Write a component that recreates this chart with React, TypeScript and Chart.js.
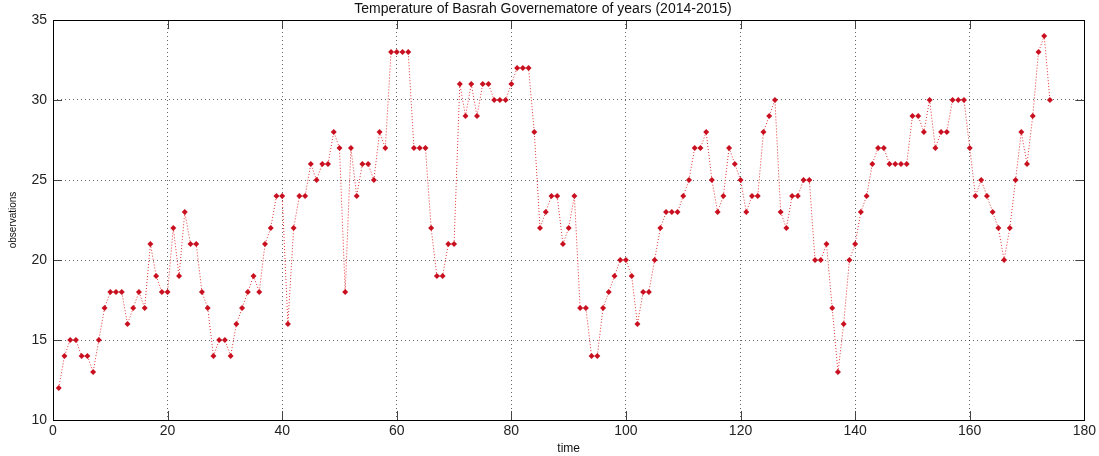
import React, { useEffect, useRef } from "react";
import { Chart, registerables } from "chart.js";

Chart.register(...registerables);

const chartTitle = "Temperature of Basrah Governematore of years (2014-2015)";
const xLabel = "time";
const yLabel = "observations";

// observation number (time index) starts at 1
const temperatures: number[] = [
  12, 14, 15, 15, 14, 14, 13, 15, 17, 18,
  18, 18, 16, 17, 18, 17, 21, 19, 18, 18,
  22, 19, 23, 21, 21, 18, 17, 14, 15, 15,
  14, 16, 17, 18, 19, 18, 21, 22, 24, 24,
  16, 22, 24, 24, 26, 25, 26, 26, 28, 27,
  18, 27, 24, 26, 26, 25, 28, 27, 33, 33,
  33, 33, 27, 27, 27, 22, 19, 19, 21, 21,
  31, 29, 31, 29, 31, 31, 30, 30, 30, 31,
  32, 32, 32, 28, 22, 23, 24, 24, 21, 22,
  24, 17, 17, 14, 14, 17, 18, 19, 20, 20,
  19, 16, 18, 18, 20, 22, 23, 23, 23, 24,
  25, 27, 27, 28, 25, 23, 24, 27, 26, 25,
  23, 24, 24, 28, 29, 30, 23, 22, 24, 24,
  25, 25, 20, 20, 21, 17, 13, 16, 20, 21,
  23, 24, 26, 27, 27, 26, 26, 26, 26, 29,
  29, 28, 30, 27, 28, 28, 30, 30, 30, 27,
  24, 25, 24, 23, 22, 20, 22, 25, 28, 26,
  29, 33, 34, 30,
];

const xTicks: number[] = [0, 20, 40, 60, 80, 100, 120, 140, 160, 180];
const yTicks: number[] = [10, 15, 20, 25, 30, 35];

const boxPlugin = {
  id: "matlabBox",
  afterDraw(chart: any) {
    const { ctx, chartArea, scales } = chart;
    const { left, right, top, bottom } = chartArea;
    const xs = scales.x;
    const ys = scales.y;
    ctx.save();
    ctx.lineWidth = 1;
    ctx.strokeStyle = "#444";
    const tl = 9;
    const line = (x1: number, y1: number, x2: number, y2: number) => {
      ctx.beginPath();
      ctx.moveTo(x1, y1);
      ctx.lineTo(x2, y2);
      ctx.stroke();
    };
    for (const v of xTicks) {
      const px = Math.round(xs.getPixelForValue(v)) + 0.5;
      line(px, bottom, px, bottom - tl);
      line(px, top, px, top + tl);
    }
    for (const v of yTicks) {
      const py = Math.round(ys.getPixelForValue(v)) + 0.5;
      line(left, py, left + tl, py);
      line(right, py, right - tl, py);
    }
    ctx.strokeStyle = "#000";
    ctx.strokeRect(
      Math.round(left) + 0.5,
      Math.round(top) + 0.5,
      Math.round(right - left),
      Math.round(bottom - top)
    );
    ctx.restore();
  },
};

export default function App() {
  const canvasRef = useRef<HTMLCanvasElement | null>(null);

  useEffect(() => {
    document.body.style.margin = "0";
    const canvas = canvasRef.current;
    if (!canvas) return;
    const points = temperatures.map((t, i) => ({ x: i + 1, y: t }));
    const chart = new Chart(canvas, {
      type: "line",
      data: {
        datasets: [
          {
            data: points,
            borderColor: "#e83030",
            borderWidth: 1,
            borderDash: [1, 2],
            backgroundColor: "#c81020",
            pointBackgroundColor: "#c81020",
            pointBorderColor: "#c81020",
            pointBorderWidth: 0,
            pointStyle: "rectRot",
            pointRadius: 3,
            tension: 0,
            fill: false,
          },
        ],
      },
      options: {
        responsive: false,
        animation: false,
        layout: { padding: { left: 0, right: 13, top: 0, bottom: 0 } },
        plugins: {
          legend: { display: false },
          tooltip: { enabled: false },
          title: {
            display: true,
            text: chartTitle,
            color: "#111",
            font: { family: "'Liberation Sans', Arial, sans-serif", size: 14, weight: "normal" },
            padding: { top: 0.5, bottom: 2.7 },
          },
        },
        scales: {
          x: {
            type: "linear",
            min: 0,
            max: 180,
            afterFit: (s: any) => {
              s.height = 36;
            },
            ticks: {
              stepSize: 20,
              color: "#222",
              padding: 3,
              maxRotation: 0,
              font: { family: "'Liberation Sans', Arial, sans-serif", size: 14 },
            },
            grid: {
              color: "rgba(0,0,0,0.6)",
              lineWidth: 1,
              drawTicks: false,
            },
            border: { display: false, dash: [1, 3] },
            title: {
              display: true,
              text: xLabel,
              color: "#111",
              font: { family: "'Liberation Sans', Arial, sans-serif", size: 12 },
              padding: { top: 6, bottom: 0 },
            },
          },
          y: {
            type: "linear",
            min: 10,
            max: 35,
            afterFit: (s: any) => {
              s.width = 53;
            },
            ticks: {
              stepSize: 5,
              color: "#222",
              padding: 6,
              font: { family: "'Liberation Sans', Arial, sans-serif", size: 14 },
            },
            grid: {
              color: "rgba(0,0,0,0.6)",
              lineWidth: 1,
              drawTicks: false,
            },
            border: { display: false, dash: [1, 3] },
            title: {
              display: true,
              text: yLabel,
              color: "#111",
              font: { family: "'Liberation Sans', Arial, sans-serif", size: 10 },
              padding: { top: 7, bottom: 0 },
            },
          },
        },
      },
      plugins: [boxPlugin],
    });
    return () => chart.destroy();
  }, []);

  return (
    <div style={{ width: 1099, height: 456 }}>
      <canvas ref={canvasRef} width={1099} height={456} style={{ display: "block" }} />
    </div>
  );
}
